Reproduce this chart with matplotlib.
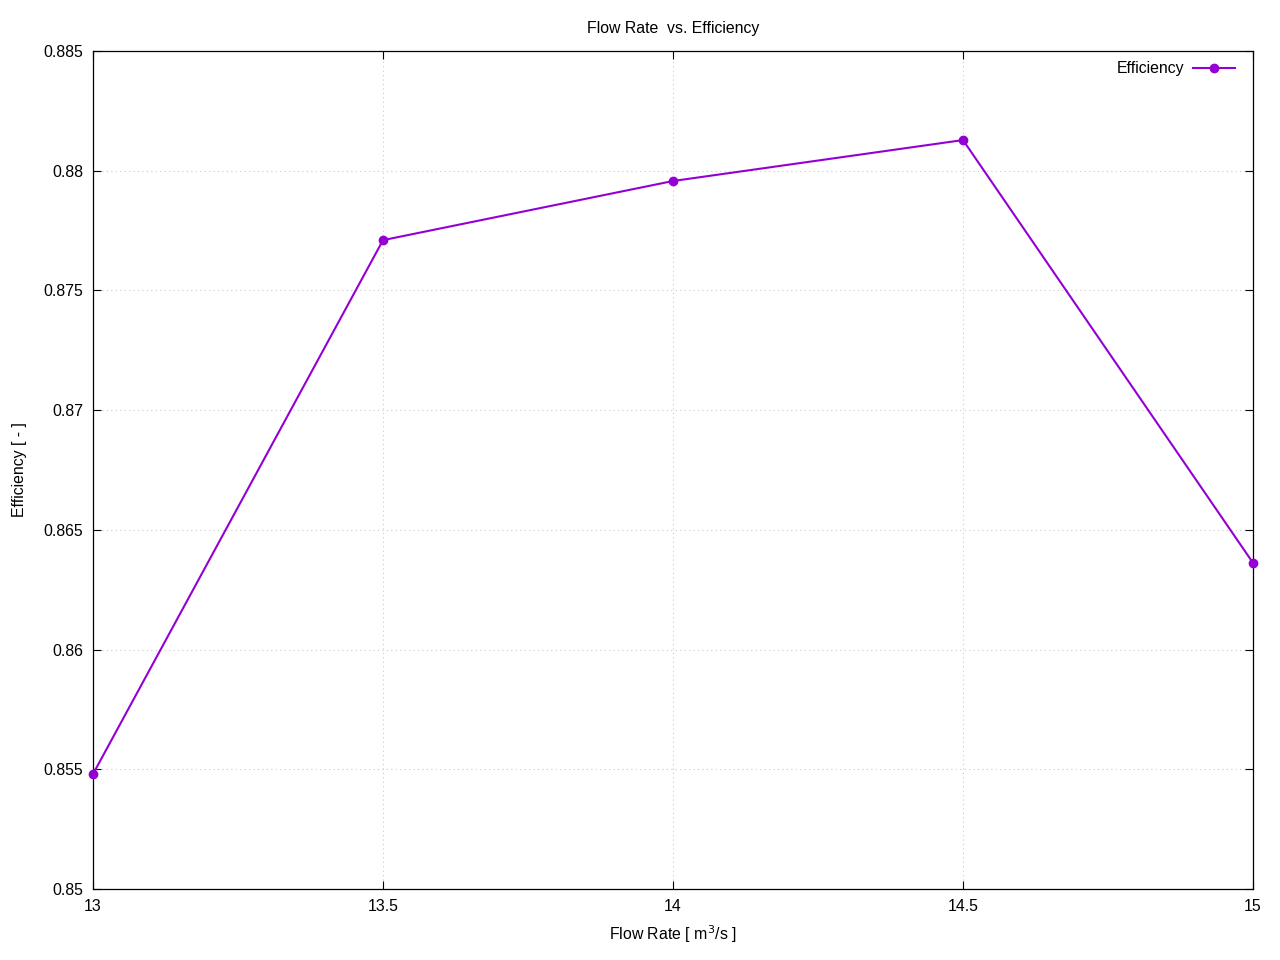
import matplotlib
matplotlib.use("Agg")
import matplotlib.pyplot as plt

flow_rate = [13.0, 13.5, 14.0, 14.5, 15.0]
efficiency = [0.8548, 0.8771, 0.87957, 0.88128, 0.86362]
x_ticks = [13, 13.5, 14, 14.5, 15]
x_tick_labels = ["13", "13.5", "14", "14.5", "15"]
y_ticks = [0.85, 0.855, 0.86, 0.865, 0.87, 0.875, 0.88, 0.885]
y_tick_labels = ["0.85", "0.855", "0.86", "0.865", "0.87", "0.875", "0.88", "0.885"]

FS = 11.4
plt.rcParams['font.family'] = ['Liberation Sans', 'DejaVu Sans']
plt.rcParams['font.size'] = FS

fig = plt.figure(figsize=(12.8, 9.6), dpi=100)
ax = fig.add_axes([93/1280, 71/960, 1160/1280, 838/960])

ax.plot(flow_rate, efficiency, color='#9400D3', lw=1.5, marker='o', ms=6,
        label='Efficiency', clip_on=False, zorder=3)

ax.set_xlim(13, 15)
ax.set_ylim(0.85, 0.885)
ax.set_xticks(x_ticks)
ax.set_xticklabels(x_tick_labels)
ax.set_yticks(y_ticks)
ax.set_yticklabels(y_tick_labels)
ax.tick_params(direction='in', top=True, right=True, length=6, width=0.8, pad=7, labelsize=FS)
ax.grid(True, color='#c8c8c8', linestyle=(0, (1, 3)), linewidth=0.8)
for s in ax.spines.values():
    s.set_linewidth(0.9)

ax.set_title('Flow Rate  vs. Efficiency', fontsize=FS, pad=13)
ax.set_xlabel('Flow Rate [ m$^3$/s ]', fontsize=FS, labelpad=7)
ax.set_ylabel('Efficiency [ - ]', fontsize=FS, labelpad=12)

leg = ax.legend(loc='upper right', bbox_to_anchor=(1 - 12/1160, 1 - 4/838),
                frameon=False, markerfirst=False, fontsize=FS,
                handlelength=2.65, borderaxespad=0, handletextpad=0.55)

fig.savefig('out.png', dpi=100)
